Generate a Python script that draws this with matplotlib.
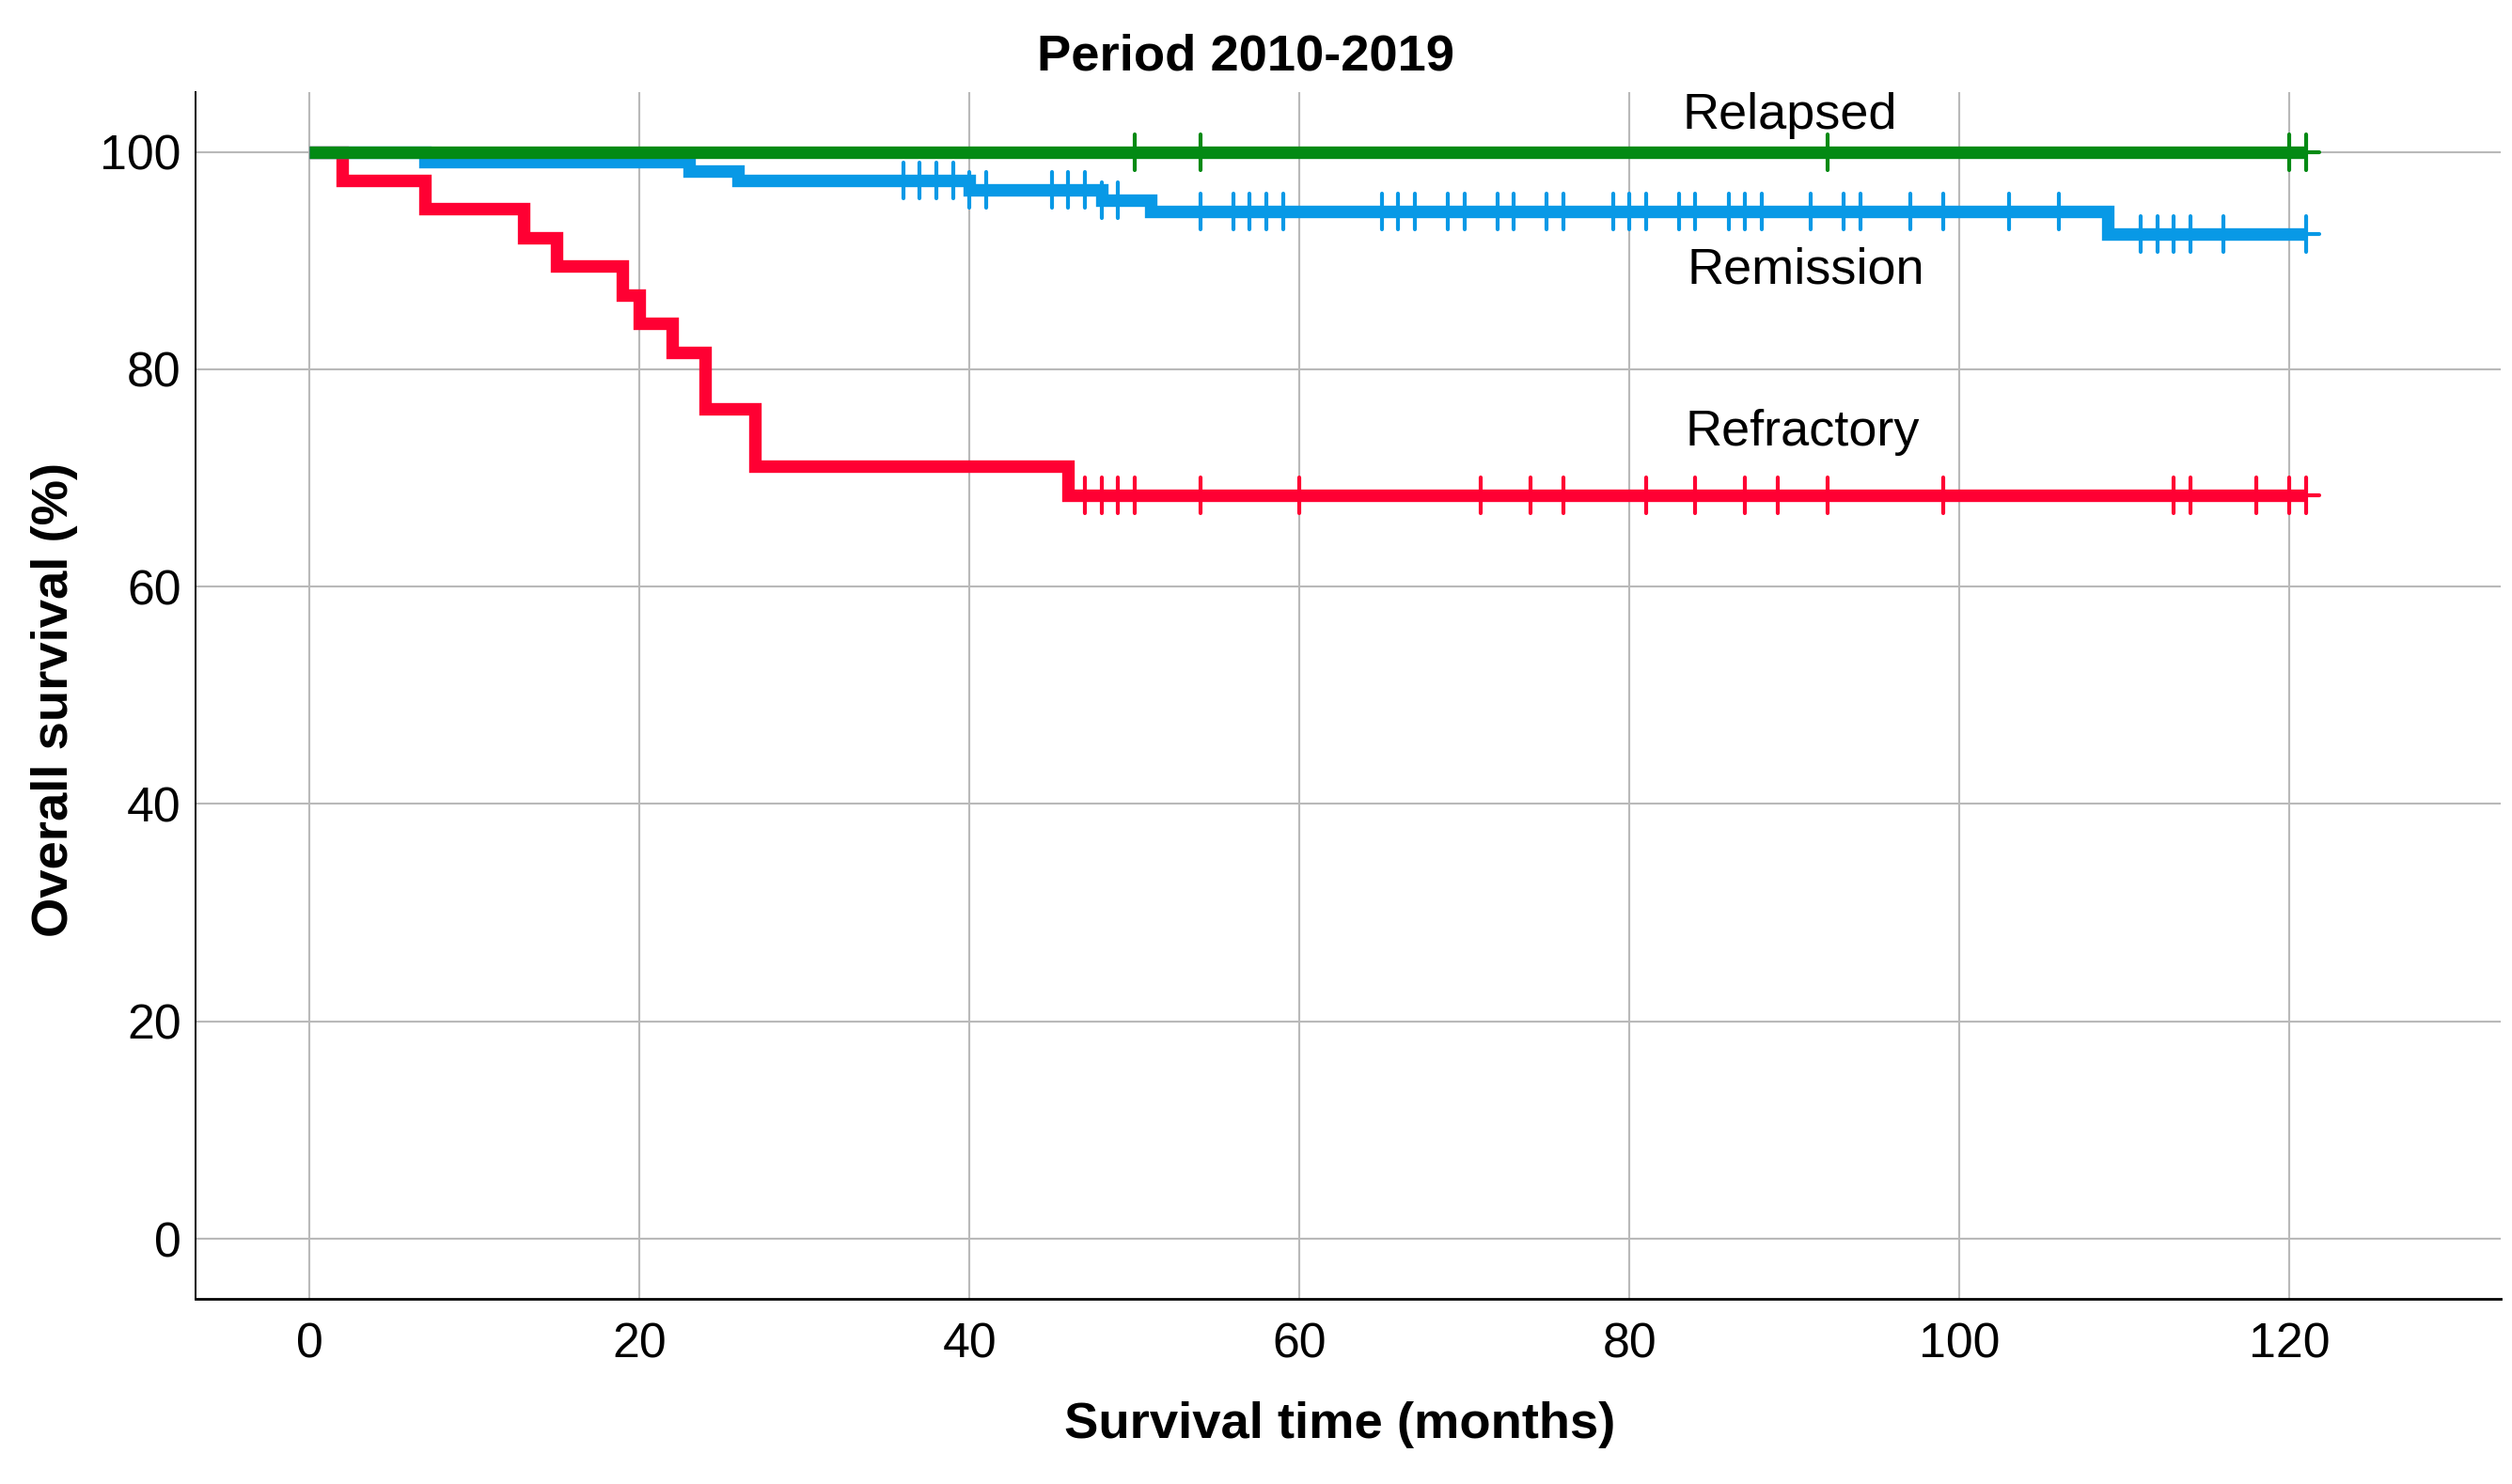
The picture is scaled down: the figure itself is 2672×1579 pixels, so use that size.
import numpy as np
import matplotlib
matplotlib.use('Agg')
import matplotlib.pyplot as plt
from matplotlib.markers import MarkerStyle

plt.rcParams['font.family'] = ['Liberation Sans', 'DejaVu Sans']

# step curves: time of each drop and survival (%) after it
refractory_t = [0, 2, 7, 13, 15, 19, 20, 22, 24, 27, 46]
refractory_s = [100, 97.37, 94.74, 92.11, 89.47, 86.84, 84.21, 81.58, 76.32, 71.05, 68.4]
refractory_cens = [47, 48, 49, 50, 54, 60, 71, 74, 76, 81, 84, 87, 89, 92, 99,
                   113, 114, 118, 120, 121]

remission_t = [0, 7, 23, 26, 40, 48, 51, 109]
remission_s = [100, 99.13, 98.26, 97.39, 96.49, 95.54, 94.5, 92.4]
remission_cens = [36, 37, 38, 39, 40, 41, 45, 46, 47, 48, 49, 54, 56, 57, 58, 59,
                  65, 66, 67, 69, 70, 72, 73, 75, 76, 79, 80, 81, 83, 84, 86, 87,
                  88, 91, 93, 94, 97, 99, 103, 106, 111, 112, 113, 114, 116, 121]

relapsed_t = [0]
relapsed_s = [100]
relapsed_cens = [50, 54, 92, 120, 121]

last_time = 121
stub_end = 121.8

groups = [
    ('Refractory', refractory_t, refractory_s, refractory_cens, '#ff0033', (90.5, 73.0)),
    ('Remission', remission_t, remission_s, remission_cens, '#0899e6', (90.7, 87.9)),
    ('Relapsed', relapsed_t, relapsed_s, relapsed_cens, '#038a14', (89.7, 102.1)),
]

fig = plt.figure(figsize=(13.36, 7.895), dpi=200)
ax = fig.add_axes([0.0778, 0.125, 0.9177, 0.813])

tick_marker = MarkerStyle('|', capstyle='round')

for name, t, s, cens, color, (lx, ly) in groups:
    t = np.array(t, dtype=float)
    s = np.array(s, dtype=float)
    xs = np.append(t, last_time)
    ys = np.append(s, s[-1])
    ax.step(xs, ys, where='post', color=color, lw=4.8,
            solid_joinstyle='miter', solid_capstyle='butt', zorder=3)
    ax.plot([last_time, stub_end], [s[-1], s[-1]], color=color, lw=1.5,
            solid_capstyle='round', zorder=3)
    idx = np.searchsorted(t, cens, side='right') - 1
    ax.plot(cens, s[idx], ls='none', marker=tick_marker, ms=13.5, mew=1.5,
            color=color, zorder=4)
    ax.text(lx, ly, name, ha='center', va='baseline', fontsize=19.5, color='black')

ax.set_xlim(-6.9, 132.8)
ax.set_ylim(-5.5, 105.5)
ax.set_xticks(range(0, 121, 20))
ax.set_yticks(range(0, 101, 20))
ax.grid(True, color='#b9b9b9', lw=0.75, zorder=0)
ax.set_axisbelow(True)

for side in ['top', 'right']:
    ax.spines[side].set_visible(False)
ax.spines['left'].set_linewidth(0.7)
ax.spines['bottom'].set_linewidth(1.0)
ax.tick_params(length=0, labelsize=18.7)
ax.tick_params(axis='x', pad=9)
ax.tick_params(axis='y', pad=5.5)

ax.set_xlabel('Survival time (months)', fontsize=19.6, fontweight='bold')
ax.xaxis.set_label_coords(0.4965, -0.085)
ax.set_ylabel('Overall survival (%)', fontsize=19.6, fontweight='bold')
ax.yaxis.set_label_coords(-0.051, 0.496)

fig.text(0.496, 0.962, 'Period 2010-2019', ha='center', va='center',
         fontsize=19.6, fontweight='bold')

fig.savefig('out.png', dpi=200, facecolor='white')
